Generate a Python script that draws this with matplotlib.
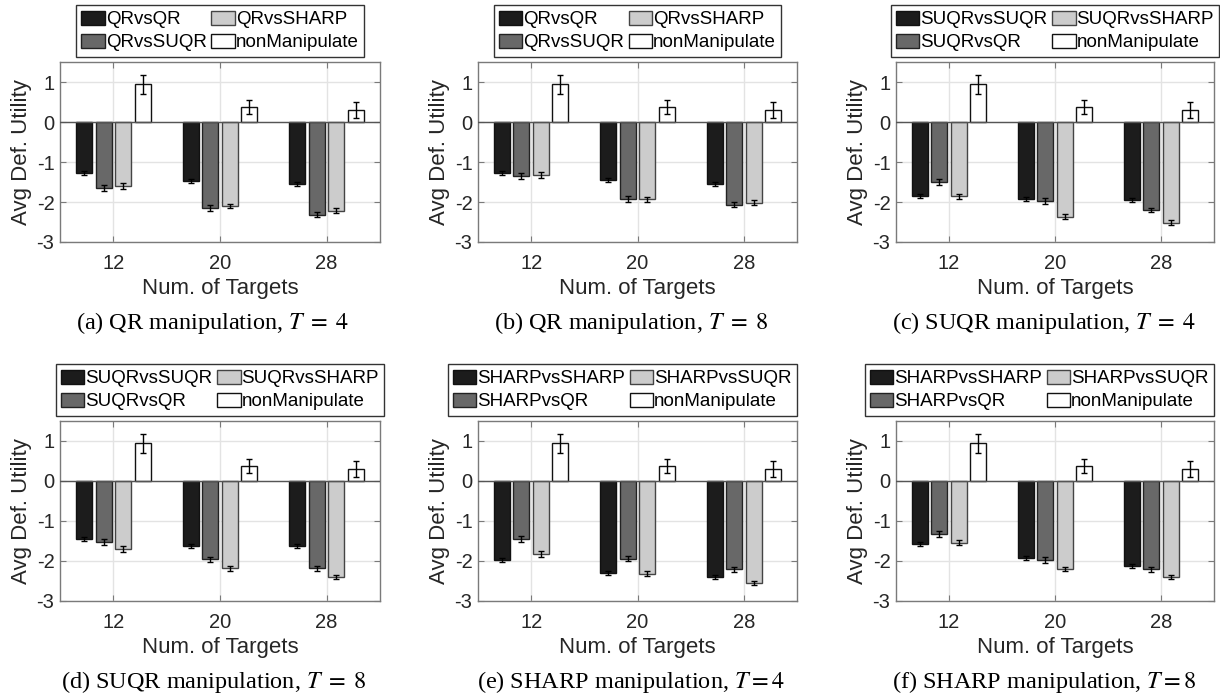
import matplotlib
matplotlib.use("Agg")
import matplotlib.pyplot as plt
import numpy as np

plt.rcParams['font.family'] = ['Liberation Sans', 'DejaVu Sans']
plt.rcParams['mathtext.fontset'] = 'stix'

targets = ['12', '20', '28']

legend_a = ['QRvsQR', 'QRvsSUQR', 'QRvsSHARP', 'nonManipulate']
legend_c = ['SUQRvsSUQR', 'SUQRvsQR', 'SUQRvsSHARP', 'nonManipulate']
legend_e = ['SHARPvsSHARP', 'SHARPvsQR', 'SHARPvsSUQR', 'nonManipulate']

non_manip = [0.94, 0.38, 0.29]
non_manip_err = [0.23, 0.18, 0.20]

# panel (a) QR manipulation, T=4
a_self = [-1.27, -1.48, -1.55]
a_second = [-1.65, -2.15, -2.32]
a_third = [-1.60, -2.10, -2.22]
# panel (b) QR manipulation, T=8
b_self = [-1.27, -1.46, -1.55]
b_second = [-1.35, -1.93, -2.07]
b_third = [-1.33, -1.93, -2.02]
# panel (c) SUQR manipulation, T=4
c_self = [-1.86, -1.93, -1.95]
c_second = [-1.50, -1.97, -2.20]
c_third = [-1.86, -2.37, -2.52]
# panel (d) SUQR manipulation, T=8
d_self = [-1.46, -1.63, -1.63]
d_second = [-1.53, -1.96, -2.18]
d_third = [-1.70, -2.18, -2.40]
# panel (e) SHARP manipulation, T=4
e_self = [-1.97, -2.30, -2.40]
e_second = [-1.45, -1.94, -2.21]
e_third = [-1.83, -2.32, -2.55]
# panel (f) SHARP manipulation, T=8
f_self = [-1.57, -1.93, -2.12]
f_second = [-1.33, -1.98, -2.21]
f_third = [-1.54, -2.20, -2.40]

self_err = [0.05, 0.05, 0.05]
second_err = [0.08, 0.07, 0.06]
third_err = [0.07, 0.06, 0.06]

captions = ['(a) QR manipulation, $T\\;=\\;4$', '(b) QR manipulation, $T\\;=\\;8$',
            '(c) SUQR manipulation, $T\\;=\\;4$', '(d) SUQR manipulation, $T\\;=\\;8$',
            '(e) SHARP manipulation, $T=4$', '(f) SHARP manipulation, $T=8$']

panels = [
    (legend_a, a_self, a_second, a_third),
    (legend_a, b_self, b_second, b_third),
    (legend_c, c_self, c_second, c_third),
    (legend_c, d_self, d_second, d_third),
    (legend_e, e_self, e_second, e_third),
    (legend_e, f_self, f_second, f_third),
]

colors = ['#1c1c1c', '#686868', '#cccccc', '#ffffff']
edgecols = ['#111111', '#222222', '#444444', '#111111']

fig = plt.figure(figsize=(12.2, 6.96), dpi=100)
W, H = 1220, 696
lefts = [60, 478, 896]
widths = [320, 319, 318]
tops = [62, 421]
ah = 180
cap_x = [213, 631, 1044]
cap_y = [323, 682]

x = np.arange(1, len(targets) + 1)
bw = 0.15
step = 0.183
txtc = '#262626'

for k, (labels, s1, s2, s3) in enumerate(panels):
    r, c = divmod(k, 3)
    ax = fig.add_axes([lefts[c] / W, 1 - (tops[r] + ah) / H, widths[c] / W, ah / H])
    series = [s1, s2, s3, non_manip]
    errs = [self_err, second_err, third_err, non_manip_err]
    for i in range(4):
        pos = x + (i - 1.5) * step
        ax.bar(pos, series[i], width=bw, color=colors[i], edgecolor=edgecols[i],
               linewidth=1.0, label=labels[i], zorder=3)
        ax.errorbar(pos, series[i], yerr=errs[i], fmt='none', ecolor='black',
                    elinewidth=1.0, capsize=2.5, capthick=1.0, zorder=4)
    ax.axhline(0, color='#555555', linewidth=1.0, zorder=3.5)
    ax.set_xlim(0.5, 3.5)
    ax.set_ylim(-3, 1.5)
    ax.set_xticks(x)
    ax.set_xticklabels(targets)
    ax.set_yticks([-3, -2, -1, 0, 1])
    ax.set_yticklabels(['-3', '-2', '-1', '0', '1'])
    ax.grid(True, color='#e3e3e3', linewidth=1.0, zorder=0)
    ax.set_axisbelow(True)
    for sp in ax.spines.values():
        sp.set_color('#7a7a7a')
        sp.set_linewidth(1.0)
    ax.tick_params(direction='in', top=True, right=True, length=4, width=0.8,
                   colors='#7a7a7a', labelcolor=txtc, labelsize=14.5)
    ax.tick_params(axis='x', pad=9)
    ax.tick_params(axis='y', pad=4)
    ax.set_xlabel('Num. of Targets', fontsize=16, color=txtc, labelpad=3)
    ax.set_ylabel('Avg Def. Utility', fontsize=16, color=txtc, labelpad=3)
    if k >= 4:
        loc, anchor = 'lower right', (1.0, 1.03)
    else:
        loc, anchor = 'lower center', (0.5, 1.03)
    leg = ax.legend(ncol=2, loc=loc, bbox_to_anchor=anchor,
                    fontsize=13.5, frameon=True, fancybox=False, framealpha=1,
                    edgecolor='#333333', handlelength=1.25, handleheight=0.8,
                    handletextpad=0.05, columnspacing=0.25, labelspacing=0.28,
                    borderpad=0.28, borderaxespad=0.0)
    leg.get_frame().set_linewidth(1.0)
    fig.text(cap_x[c] / W, 1 - cap_y[r] / H, captions[k], ha='center', va='center',
             fontsize=17.5, family=['Liberation Serif', 'DejaVu Serif'], color='black')

fig.savefig('out.png', dpi=100)
